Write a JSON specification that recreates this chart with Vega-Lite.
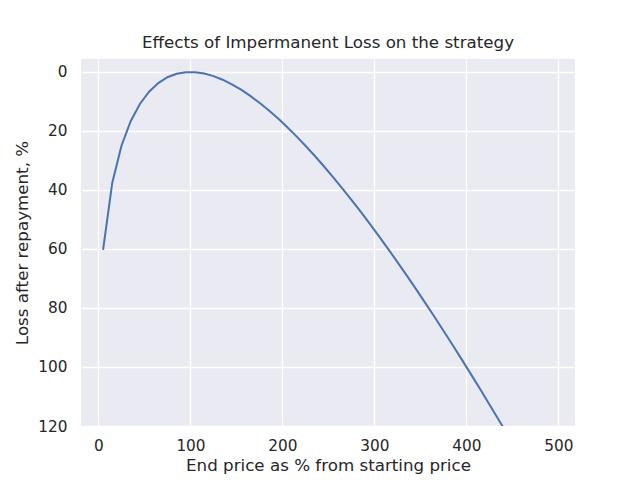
{
  "$schema": "https://vega.github.io/schema/vega-lite/v6.json",
  "width": 494,
  "height": 367,
  "autosize": {"type": "none"},
  "padding": {"left": 81, "top": 59, "right": 65, "bottom": 54},
  "background": "white",
  "title": {
    "text": "Effects of Impermanent Loss on the strategy",
    "font": "DejaVu Sans",
    "fontSize": 16.7,
    "fontWeight": "normal",
    "color": "#262626",
    "offset": 7
  },
  "config": {
    "view": {"fill": "#EAEAF2", "stroke": null},
    "axis": {
      "domain": false,
      "ticks": false,
      "tickSize": 0,
      "grid": true,
      "gridColor": "white",
      "gridWidth": 1.3,
      "labelFont": "DejaVu Sans",
      "labelFontSize": 15.3,
      "labelColor": "#262626",
      "titleFont": "DejaVu Sans",
      "titleFontSize": 16.7,
      "titleFontWeight": "normal",
      "titleColor": "#262626"
    }
  },
  "data": {
    "values": [
      {"price": 5, "loss": 60.28},
      {"price": 15, "loss": 37.54},
      {"price": 25, "loss": 25.0},
      {"price": 35, "loss": 16.68},
      {"price": 45, "loss": 10.84},
      {"price": 55, "loss": 6.68},
      {"price": 65, "loss": 3.75},
      {"price": 75, "loss": 1.79},
      {"price": 85, "loss": 0.61},
      {"price": 95, "loss": 0.06},
      {"price": 105, "loss": 0.06},
      {"price": 115, "loss": 0.52},
      {"price": 125, "loss": 1.39},
      {"price": 135, "loss": 2.62},
      {"price": 145, "loss": 4.17},
      {"price": 155, "loss": 6.0},
      {"price": 165, "loss": 8.1},
      {"price": 175, "loss": 10.43},
      {"price": 185, "loss": 12.97},
      {"price": 195, "loss": 15.72},
      {"price": 205, "loss": 18.64},
      {"price": 215, "loss": 21.74},
      {"price": 225, "loss": 25.0},
      {"price": 235, "loss": 28.41},
      {"price": 245, "loss": 31.95},
      {"price": 255, "loss": 35.63},
      {"price": 265, "loss": 39.42},
      {"price": 275, "loss": 43.34},
      {"price": 285, "loss": 47.36},
      {"price": 295, "loss": 51.49},
      {"price": 305, "loss": 55.71},
      {"price": 315, "loss": 60.03},
      {"price": 325, "loss": 64.45},
      {"price": 335, "loss": 68.94},
      {"price": 345, "loss": 73.52},
      {"price": 355, "loss": 78.17},
      {"price": 365, "loss": 82.9},
      {"price": 375, "loss": 87.7},
      {"price": 385, "loss": 92.57},
      {"price": 395, "loss": 97.51},
      {"price": 405, "loss": 102.51},
      {"price": 415, "loss": 107.57},
      {"price": 425, "loss": 112.69},
      {"price": 435, "loss": 117.87},
      {"price": 445, "loss": 123.1}
    ]
  },
  "mark": {"type": "line", "color": "#4C72B0", "strokeWidth": 2, "clip": true},
  "encoding": {
    "x": {
      "field": "price",
      "type": "quantitative",
      "scale": {"domain": [-19, 518], "nice": false, "zero": false},
      "axis": {"values": [0, 100, 200, 300, 400, 500], "title": "End price as % from starting price", "labelPadding": 12, "titlePadding": 4}
    },
    "y": {
      "field": "loss",
      "type": "quantitative",
      "scale": {"domain": [-4.4, 120], "reverse": true, "nice": false, "zero": false},
      "axis": {"values": [0, 20, 40, 60, 80, 100, 120], "title": "Loss after repayment, %", "labelPadding": 14, "titlePadding": 6}
    }
  }
}
